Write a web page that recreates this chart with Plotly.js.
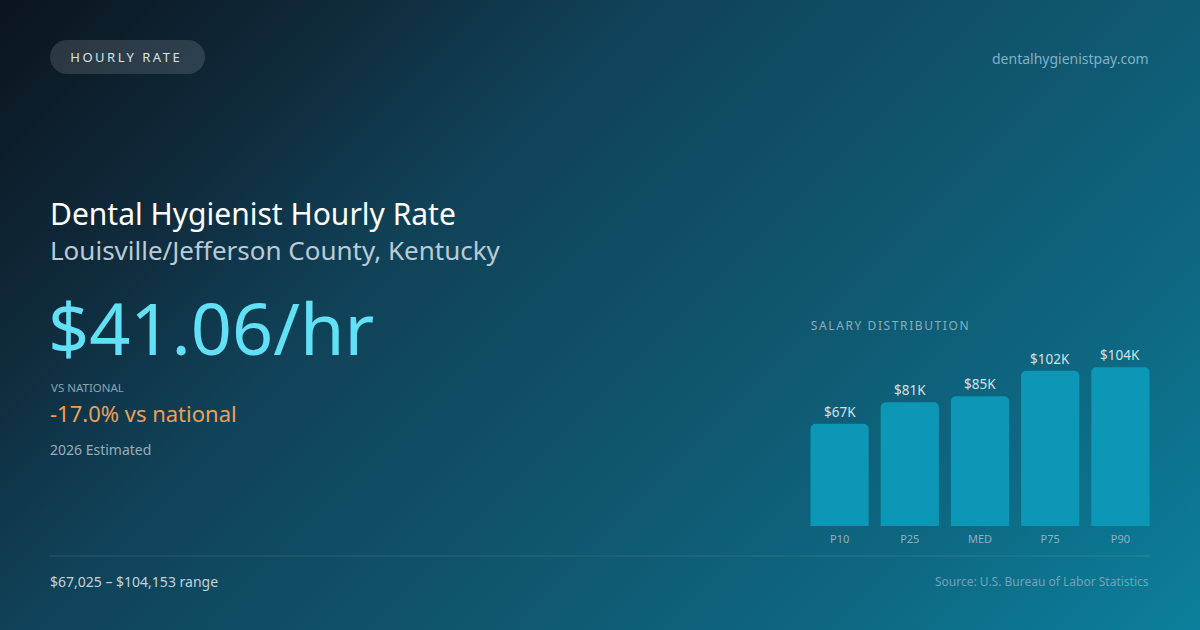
<!DOCTYPE html>
<html>
<head>
<meta charset="utf-8">
<script src="https://cdn.plot.ly/plotly-3.0.1.min.js"></script>
<style>
  html, body { margin: 0; padding: 0; }
  body {
    width: 1200px; height: 630px; overflow: hidden;
    background: linear-gradient(135deg, #0b141e 0%, #0f2b3c 20%, #104258 35%, #0f5b74 66%, #0e6882 80%, #0b809c 100%);
  }
  #chart { width: 1200px; height: 630px; }
</style>
</head>
<body>
<div id="chart"></div>
<script>
// salary percentiles (annual, USD)
var percentiles = ['P10', 'P25', 'MED', 'P75', 'P90'];
var salaries = [67025, 81200, 85100, 101800, 104153];

var hourlyRate = '$41.06/hr';
var vsNational = '-17.0% vs national';
var rangeText = '$67,025 – $104,153 range';

var W = 1200, H = 630;
var FONT = '"Noto Sans", "Open Sans", sans-serif';

// pixel -> paper helpers (margins are zero so paper == page)
function px(x) { return x / W; }
function py(y) { return 1 - y / H; }

// rounded rectangle path in paper coords
function pillPath(x0, y0, x1, y1, r) {
    var k = 0.5523 * r;
    var p = [
        'M', px(x0 + r), py(y0),
        'L', px(x1 - r), py(y0),
        'C', px(x1 - r + k), py(y0), px(x1), py(y0 + r - k), px(x1), py(y0 + r),
        'L', px(x1), py(y1 - r),
        'C', px(x1), py(y1 - r + k), px(x1 - r + k), py(y1), px(x1 - r), py(y1),
        'L', px(x0 + r), py(y1),
        'C', px(x0 + r - k), py(y1), px(x0), py(y1 - r + k), px(x0), py(y1 - r),
        'L', px(x0), py(y0 + r),
        'C', px(x0), py(y0 + r - k), px(x0 + r - k), py(y0), px(x0 + r), py(y0),
        'Z'
    ];
    return p.join(' ');
}

function textNote(x, y, text, size, color, anchor) {
    return {
        xref: 'paper', yref: 'paper', x: px(x), y: py(y),
        xanchor: anchor || 'left', yanchor: 'middle',
        text: text, showarrow: false,
        font: { family: FONT, size: size, color: color }
    };
}

var barTrace = {
    type: 'bar',
    x: percentiles,
    y: salaries,
    marker: { color: '#0b97b5', cornerradius: 5 },
    hoverinfo: 'skip'
};

// letter-spaced labels get centred by plotly, so x is nudged right to compensate
var annotations = [
    textNote(82, 57, 'HOURLY RATE', 13, '#d6e1e8'),
    textNote(1151, 58, 'dentalhygienistpay.com', 14, '#7fb2c6', 'right'),
    textNote(48, 213, 'Dental Hygienist Hourly Rate', 30, '#ffffff'),
    textNote(48, 250, 'Louisville/Jefferson County, Kentucky', 26, '#b9cbd6'),
    textNote(46, 327, hourlyRate, 72, '#62e0f6'),
    textNote(49, 387, 'VS NATIONAL', 11.5, '#89a4b4'),
    textNote(48, 413, vsNational, 22, '#e9a05a'),
    textNote(48, 449, '2026 Estimated', 14, '#97aebd'),
    textNote(824, 325, 'SALARY DISTRIBUTION', 12, '#8aaebe'),
    textNote(48, 581, rangeText, 14, '#c3d2dc'),
    textNote(1151, 581, 'Source: U.S. Bureau of Labor Statistics', 12, '#72a3b8', 'right')
];

// value labels above each bar
salaries.forEach(function(v, i) {
    annotations.push({
        xref: 'x', yref: 'y', x: percentiles[i], y: v,
        yanchor: 'bottom', yshift: 1,
        text: '$' + Math.round(v / 1000) + 'K', showarrow: false,
        font: { family: FONT, size: 13.5, color: '#d3e0e8' }
    });
});

var layout = {
    width: W, height: H,
    margin: { l: 0, r: 0, t: 0, b: 0 },
    paper_bgcolor: 'rgba(0,0,0,0)',
    plot_bgcolor: 'rgba(0,0,0,0)',
    showlegend: false,
    bargap: 0.17,
    font: { family: FONT },
    xaxis: {
        domain: [px(804.5), px(1155.5)],
        showgrid: false, zeroline: false, showline: false,
        ticks: '', ticklabelstandoff: 5,
        tickfont: { family: FONT, size: 11, color: '#8cb2c3' }
    },
    yaxis: {
        domain: [py(526), py(343)],
        range: [0, 120000],
        visible: false, showgrid: false, zeroline: false
    },
    shapes: [
        {
            type: 'path', xref: 'paper', yref: 'paper',
            path: pillPath(50, 40, 205, 74, 17),
            fillcolor: 'rgba(255,255,255,0.13)', line: { width: 0 }
        },
        {
            type: 'line', xref: 'paper', yref: 'paper',
            x0: px(50), x1: px(1150), y0: py(556), y1: py(556),
            line: { color: 'rgba(255,255,255,0.12)', width: 1 }
        }
    ],
    annotations: annotations
};

Plotly.newPlot('chart', [barTrace], layout, { staticPlot: true }).then(function() {
    // small caps labels are tracked out a little
    document.querySelectorAll('.annotation-text').forEach(function(t) {
        var s = t.textContent;
        if (s === 'HOURLY RATE') t.style.letterSpacing = '2.5px';
        if (s === 'SALARY DISTRIBUTION') t.style.letterSpacing = '1.6px';
    });
});
</script>
</body>
</html>
